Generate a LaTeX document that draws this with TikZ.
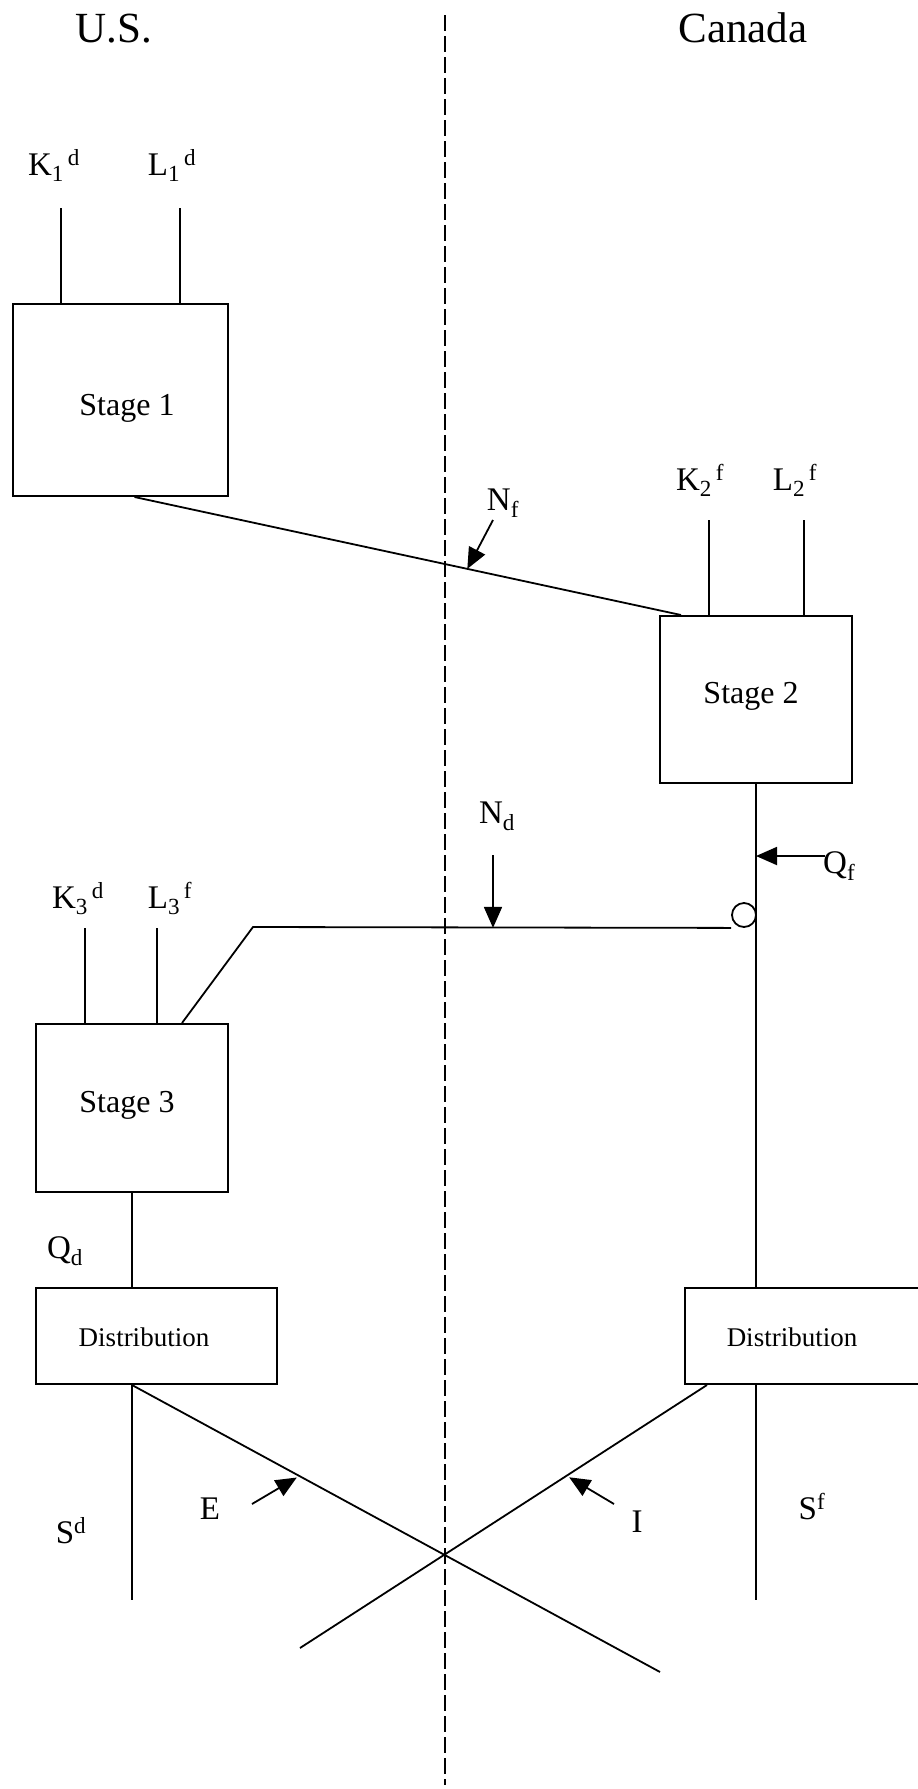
\documentclass[tikz,border=0pt]{standalone}
\usepackage{fontspec}
\setmainfont{Liberation Serif}
\usetikzlibrary{positioning,arrows.meta,calc}
\newcommand{\figtitle}{\fontsize{43}{48}\selectfont}
\newcommand{\figlbl}{\fontsize{33}{38}\selectfont}
\newcommand{\figstage}{\fontsize{32}{36}\selectfont}
\newcommand{\figdist}{\fontsize{27}{30}\selectfont}
\tikzset{
  stagebox/.style={draw,line width=2pt,inner sep=0pt},
  distbox/.style={stagebox,minimum width=241pt,minimum height=96pt},
  wire/.style={line width=1.8pt},
  ln/.style={wire,-{Triangle[length=21pt,width=18pt]}},
  lbl/.style={font=\figlbl,inner sep=0pt,anchor=base},
  border/.style={line width=1.8pt,dash pattern=on 16pt off 5pt},
}

\begin{document}
\begin{tikzpicture}[x=1pt,y=-1pt]
\useasboundingbox (0,0) rectangle (918,1789);
\clip (0,0) rectangle (918,1789);

\coordinate (btop) at (445,15);
\coordinate (bbot) at (445,1785);
\draw[border] (btop) -- (bbot);

\node[lbl,font=\figtitle] (us) at (114,42) {U.S.};
\node[lbl,font=\figtitle] (ca) at (743,42) {Canada};

\node[stagebox,minimum width=215pt,minimum height=192pt] (s1) at (120.5,400) {};
\node[stagebox,minimum width=192pt,minimum height=167pt] (s2) at (756,699.5) {};
\node[stagebox,minimum width=192pt,minimum height=168pt] (s3) at (132,1108) {};
\node[distbox] (d1) at (156.5,1336) {};
\node[distbox] (d2) at (805.5,1336) {};
\node[circle,draw,wire,minimum size=24pt,inner sep=0pt] (jn) at (744,915) {};

\node[lbl,font=\figstage] (s1t) at (127,415) {Stage 1};
\node[lbl,font=\figstage] (s2t) at (751,703) {Stage 2};
\node[lbl,font=\figstage] (s3t) at (127,1112) {Stage 3};
\node[lbl,font=\figdist] (d1t) at (144,1346) {Distribution};
\node[lbl,font=\figdist] (d2t) at (792,1346) {Distribution};

\node[lbl] (k1d) at (54,175) {K\textsubscript{1}\textsuperscript{\,d}};
\node[lbl] (l1d) at (172,175) {L\textsubscript{1}\textsuperscript{\,d}};
\node[lbl] (k2f) at (700,490) {K\textsubscript{2}\textsuperscript{\,f}};
\node[lbl] (l2f) at (795,490) {L\textsubscript{2}\textsuperscript{\,f}};
\node[lbl] (k3d) at (78,908) {K\textsubscript{3}\textsuperscript{\,d}};
\node[lbl] (l3f) at (170,908) {L\textsubscript{3}\textsuperscript{\,f}};
\node[lbl] (nf) at (503,510) {N\textsubscript{f}};
\node[lbl] (nd) at (497,823) {N\textsubscript{d}};
\node[lbl,anchor=base west] (qf) at (823,873) {Q\textsubscript{f}};
\node[lbl] (qd) at (65,1258) {Q\textsubscript{d}};
\node[lbl] (ex) at (210,1519) {E};
\node[lbl] (im) at (637,1532) {I};
\node[lbl] (sd) at (71,1543) {S\textsuperscript{d}};
\node[lbl] (sf) at (812,1519) {S\textsuperscript{f}};

\coordinate (k1) at (61,208);
\coordinate (l1) at (180,208);
\coordinate (k2) at (709,520);
\coordinate (l2) at (804,520);
\coordinate (k3) at (85,928);
\coordinate (l3) at (157,928);
\draw[wire] (k1) -- (k1 |- s1.north);
\draw[wire] (l1) -- (l1 |- s1.north);
\draw[wire] (k2) -- (k2 |- s2.north);
\draw[wire] (l2) -- (l2 |- s2.north);
\draw[wire] (k3) -- (k3 |- s3.north);
\draw[wire] (l3) -- (l3 |- s3.north);

\draw[wire] ([xshift=14pt]s1.south) -- ([xshift=22pt]s2.north west)
      coordinate[pos=0.609] (nfhit);
\coordinate (nftail) at (493,520);
\draw[ln] (nftail) -- (nfhit);

\draw[wire] (s2.south) -- (s2.south |- d2.north);
\coordinate (sfend) at (756,1600);
\draw[wire] (s2.south |- d2.south) -- (sfend);
\coordinate (qftail) at (825,856);
\draw[ln] (qftail) -- (qftail -| s2.south);

\coordinate (bend) at (253,927);
\draw[wire] (jn.south -| jn.west) -- (bend) -- ([xshift=-47pt]s3.north east);
\coordinate (ndtail) at (493,855);
\draw[ln] (ndtail) -- (ndtail |- jn.south);

\draw[wire] (s3.south) -- (s3.south |- d1.north);
\coordinate (sdend) at (132,1600);
\draw[wire] (s3.south |- d1.south) -- (sdend);

\coordinate (eend) at (660,1672);
\draw[wire] (s3.south |- d1.south) -- (eend) coordinate[pos=0.317] (ehit);
\coordinate (etail) at (252,1504);
\draw[ln,shorten >=3pt] (etail) -- (ehit);

\coordinate (iend) at (300,1648);
\draw[wire] ([xshift=23pt]d2.south west) -- (iend) coordinate[pos=0.345] (ihit);
\coordinate (itail) at (614,1504);
\draw[ln,shorten >=3pt] (itail) -- (ihit);

\end{tikzpicture}
\end{document}
